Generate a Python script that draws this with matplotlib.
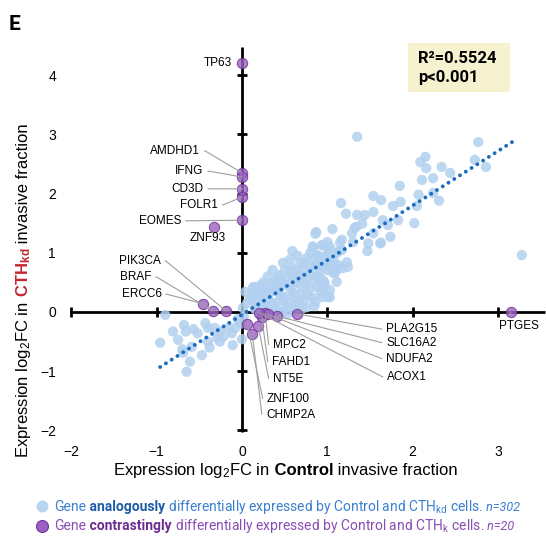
import matplotlib
matplotlib.use('Agg')
import matplotlib.pyplot as plt
from matplotlib.patches import Rectangle

plt.rcParams['font.family'] = ['Liberation Sans', 'DejaVu Sans']
plt.rcParams['mathtext.default'] = 'regular'

# genes differentially expressed the same way in both (light blue)
blue_x = [-0.90, -0.68, -0.81, -0.66, -0.57, -0.52, -0.43, -0.40, -0.32, -0.26,
          -0.16, -0.08, -0.12, -0.22, -0.29, -0.26, -0.96, -0.75, -0.70, -0.59,
          -0.40, -0.38, -0.11, 0.00, -0.47, -0.61, -0.65, -0.69, -0.05, -0.02,
          0.59, 0.83, 0.94, 1.03, 1.11, 0.88, 0.76, 0.97, 0.68, 0.86,
          1.03, 0.48, 0.36, 0.56, 0.72, 0.91, 1.07, 0.45, 0.62, 0.77,
          0.95, 1.11, 0.35, 0.53, 0.70, 0.88, 1.03, 0.15, 0.25, 0.41,
          0.60, 0.77, 0.94, 0.04, 0.12, 0.30, 0.48, 0.66, 0.86, 1.03,
          0.06, 0.21, 0.36, 0.54, 0.76, 0.01, 0.60,
          1.35, 2.77, 2.09, 2.15, 2.16, 2.34, 2.44, 2.11, 2.24, 1.85,
          2.73, 2.86, 2.07, 2.31, 2.05, 1.86, 1.77, 1.63, 1.54, 1.16,
          1.22, 1.35, 1.44, 1.54, 1.65, 1.71, 1.83, 2.02, 1.34, 1.41,
          1.29, 1.06, 0.87, 0.86, 1.30, 1.48, 1.62, 1.74, 1.47, 1.17,
          0.94, 1.01, 1.14, 0.83, 3.28, 1.23, 1.13, 1.24, 1.11, 0.95,
          1.01, 0.56, 0.80,
          1.32, 1.54, 1.63, 1.15, 1.17, 1.07, 1.00, 1.18, 1.09, 1.00,
          0.97, 0.12, 0.23, 0.31, 0.45, 0.65, 0.91, 0.21, 0.45, 0.53,
          0.36, 0.70, 0.85, 0.30, 0.15, 0.40, 0.50, 0.60, 0.70, 0.80,
          0.90, 0.65, 0.50, 0.40, 0.25, 0.30, 0.20, 0.13, 0.02, 2.24,
          0.18, 0.28, 0.38, 0.43, 0.52, 0.58, 0.63, 0.67, 0.73, 0.79,
          0.83, 0.85, 0.90, 0.92, 0.98, 1.00, 0.74, 0.80, 0.57, 0.62,
          0.45, 0.33, 0.27, 0.17, 0.09, 0.69, 0.82, 0.92, 0.50, 0.64,
          0.40, 0.55, 0.72, 0.95, 1.08, 0.47, 0.35, 0.22, 0.60, 0.88]
blue_y = [-0.05, -0.22, -0.33, -0.33, -0.29, -0.36, -0.19, -0.27, -0.27, -0.33,
          -0.27, -0.27, -0.36, -0.42, -0.44, -0.50, -0.52, -0.47, -0.63, -0.59,
          -0.50, -0.60, -0.56, -0.46, -0.73, -0.84, -1.01, -0.69, -0.12, -0.20,
          1.03, 1.11, 1.13, 1.10, 1.00, 0.96, 0.91, 0.91, 0.83, 0.79,
          0.83, 0.83, 0.71, 0.68, 0.71, 0.68, 0.66, 0.59, 0.57, 0.57,
          0.54, 0.51, 0.49, 0.46, 0.42, 0.42, 0.37, 0.42, 0.34, 0.34,
          0.32, 0.29, 0.25, 0.34, 0.25, 0.24, 0.20, 0.17, 0.17, 0.25,
          0.15, 0.12, 0.12, 0.08, 0.08, 0.07, 0.03,
          2.96, 2.87, 2.53, 2.62, 2.43, 2.45, 2.35, 2.23, 2.26, 2.13,
          2.57, 2.45, 1.98, 1.88, 1.79, 1.86, 1.79, 1.89, 1.96, 1.84,
          1.66, 1.64, 1.64, 1.69, 1.55, 1.47, 1.55, 1.50, 1.44, 1.49,
          1.33, 1.40, 1.35, 1.32, 1.18, 1.16, 1.16, 1.27, 1.03, 1.22,
          1.13, 1.06, 1.03, 1.08, 0.96, 0.84, 0.79, 0.76, 0.71, 0.49,
          0.25, 0.88, 1.00,
          1.42, 1.33, 1.17, 1.17, 1.05, 0.88, 1.18, 0.74, 0.66, 0.71,
          0.49, 0.29, 0.25, 0.32, 0.42, 0.49, 0.49, -0.03, -0.02, -0.04,
          0.00, 0.05, 0.10, 0.05, 0.05, 0.15, 0.25, 0.60, 0.55, 0.75,
          0.85, 0.95, 0.70, 0.55, 0.50, 0.60, 0.20, 0.42, -0.08, 2.01,
          0.30, 0.40, 0.45, 0.62, 0.55, 0.75, 0.70, 0.62, 0.83, 0.66,
          0.90, 0.55, 0.95, 0.78, 0.78, 0.96, 0.48, 0.40, 0.37, 0.25,
          0.28, 0.18, 0.10, 0.13, 0.22, 0.30, 0.24, 0.33, 0.05, 0.12,
          0.05, 0.15, 0.20, 0.40, 0.78, 0.50, 0.35, 0.45, 0.50, 0.60]

# genes with opposite behaviour (purple)
genes = ['TP63', 'AMDHD1', 'IFNG', 'CD3D', 'FOLR1', 'EOMES', 'ZNF93', 'PIK3CA',
         'BRAF', 'ERCC6', 'MPC2', 'FAHD1', 'NT5E', 'ZNF100', 'CHMP2A',
         'PLA2G15', 'SLC16A2', 'NDUFA2', 'ACOX1', 'PTGES']
purple_x = [0.00, 0.00, 0.00, 0.00, 0.00, 0.00, -0.33, -0.19, -0.34, -0.46,
            0.27, 0.23, 0.19, 0.06, 0.12, 0.64, 0.41, 0.30, 0.20, 3.15]
purple_y = [4.20, 2.35, 2.28, 2.08, 1.94, 1.55, 1.44, 0.02, 0.02, 0.14,
            -0.02, -0.08, -0.24, -0.20, -0.37, -0.03, -0.07, -0.04, -0.01, 0.00]

# regression line ends
trend_x = [-0.96, 3.22]
trend_y = [-0.93, 2.92]

xticks = [-2, -1, 0, 1, 2, 3]
yticks = [-2, -1, 0, 1, 2, 3, 4]

# where each gene label goes: x, y, alignment, leader side
label_layout = {
    'TP63': (-0.12, 4.20, 'right', None),
    'AMDHD1': (-0.49, 2.72, 'right', 'L'),
    'IFNG': (-0.45, 2.38, 'right', 'L'),
    'CD3D': (-0.45, 2.08, 'right', 'L'),
    'FOLR1': (-0.28, 1.81, 'right', 'L'),
    'EOMES': (-0.71, 1.54, 'right', 'L'),
    'ZNF93': (-0.40, 1.25, 'center', None),
    'PIK3CA': (-0.95, 0.86, 'right', 'L'),
    'BRAF': (-1.06, 0.59, 'right', 'L'),
    'ERCC6': (-0.94, 0.30, 'right', 'L'),
    'MPC2': (0.36, -0.56, 'left', 'R'),
    'FAHD1': (0.35, -0.85, 'left', 'R'),
    'NT5E': (0.36, -1.13, 'left', 'R'),
    'ZNF100': (0.29, -1.47, 'left', 'R'),
    'CHMP2A': (0.28, -1.74, 'left', 'R'),
    'PLA2G15': (1.69, -0.29, 'left', 'R'),
    'SLC16A2': (1.69, -0.52, 'left', 'R'),
    'NDUFA2': (1.69, -0.79, 'left', 'R'),
    'ACOX1': (1.70, -1.10, 'left', 'R'),
    'PTGES': (3.25, -0.24, 'center', 'T'),
}

fig = plt.figure(figsize=(5.46, 5.44), dpi=100)
ax = fig.add_axes([0.1152, 0.198, 0.8826, 0.7182])
ax.set_xlim(-2.1, 3.55)
ax.set_ylim(-2.1, 4.5)
for s in ax.spines.values():
    s.set_visible(False)
ax.set_xticks(xticks)
ax.set_yticks(yticks)
ax.tick_params(length=0, labelsize=10)
ax.tick_params(axis='y', pad=5)
ax.tick_params(axis='x', pad=6.5)

# axes crossing at the origin
ax.hlines(0, -2.02, 3.55, color='black', lw=2, zorder=1, clip_on=False)
ax.vlines(0, -2.03, 4.48, color='black', lw=2, zorder=1, clip_on=False)
xt = [t for t in xticks if t != 0]
yt = [t for t in yticks if t != 0]
ax.plot(xt, [0] * len(xt), ls='none', marker='|', ms=7, mew=2, color='black', zorder=1)
ax.plot([0] * len(yt), yt, ls='none', marker='_', ms=7, mew=2, color='black', zorder=1)

ax.scatter(blue_x, blue_y, s=55, color='#b2d0ef', alpha=0.85, edgecolors='none', zorder=2)
ax.plot(trend_x, trend_y, color='#1b6cc0', lw=2.8, ls=(0, (0.01, 1.75)),
        dash_capstyle='round', zorder=3)
ax.scatter(purple_x, purple_y, s=55, color='#9b62c4', alpha=0.8,
           edgecolors='#6e3494', linewidths=0.8, zorder=4)

for g, x, y in zip(genes, purple_x, purple_y):
    tx, ty, ha, side = label_layout[g]
    if side is None:
        ax.text(tx, ty, g, ha=ha, va='center', fontsize=8.5, zorder=5)
        continue
    if side == 'L':
        props = dict(relpos=(1, 0.5), connectionstyle='arc,angleA=0,armA=5,angleB=0,armB=0.01,rad=0')
    elif side == 'R':
        props = dict(relpos=(0, 0.5), connectionstyle='arc,angleA=180,armA=4,angleB=0,armB=0.01,rad=0')
    else:
        props = dict(relpos=(0.25, 1), connectionstyle='arc3')
    ax.annotate(g, xy=(x, y), xytext=(tx, ty), ha=ha, va='center', fontsize=8.5, zorder=5,
                arrowprops=dict(arrowstyle='-', color='#9e9e9e', lw=0.8,
                                shrinkA=1, shrinkB=0, **props))


def chain_text(pieces, x, y, rotation=0, **common):
    # draw pieces one after another, each starting where the previous ended
    prev = None
    for s, kw in pieces:
        opts = dict(common)
        opts.update(kw)
        if prev is None:
            prev = fig.text(x, y, s, rotation=rotation, rotation_mode='anchor',
                            ha='left', va='baseline', **opts)
        elif rotation == 0:
            prev = ax.annotate(s, xy=(1, y), xycoords=(prev, 'figure fraction'),
                               ha='left', va='baseline', annotation_clip=False, **opts)
        else:
            prev = ax.annotate(s, xy=(x, 1), xycoords=('figure fraction', prev),
                               rotation=rotation, rotation_mode='anchor',
                               ha='left', va='baseline', annotation_clip=False, **opts)
    return prev


chain_text([('Expression log$_2$FC in', {}),
            (' Control', {'weight': 'bold'}),
            (' invasive fraction', {})],
           0.207, 0.127, fontsize=12, color='black')

chain_text([('Expression log$_2$FC in', {}),
            (' CTH$_{kd}$', {'weight': 'bold', 'color': '#c4262e'}),
            (' invasive fraction', {})],
           0.0513, 0.158, rotation=90, fontsize=12, color='black')

# legend
ax.plot([0.0769], [0.0699], transform=fig.transFigure, clip_on=False, marker='o', ms=8.6,
        mfc='#b8d5f1', mec='none', ls='none')
ax.plot([0.0769], [0.0331], transform=fig.transFigure, clip_on=False, marker='o', ms=8.6,
        mfc='#9b5fc5', mec='#6e3494', mew=0.8, ls='none')

blue_txt = '#3a80d2'
purple_txt = '#8a4db3'
chain_text([('Gene', {}),
            (' analogously', {'weight': 'bold', 'color': '#1d5ca8'}),
            (' differentially expressed by Control and CTH$_{kd}$ cells.', {}),
            (' n=302', {'style': 'italic', 'fontsize': 9})],
           0.0989, 0.0607, fontsize=10, color=blue_txt, family=['Roboto', 'DejaVu Sans'])
chain_text([('Gene', {}),
            (' contrastingly', {'weight': 'bold', 'color': '#6b2d90'}),
            (' differentially expressed by Control and CTH$_k$ cells.', {}),
            (' n=20', {'style': 'italic', 'fontsize': 9})],
           0.0989, 0.0257, fontsize=10, color=purple_txt, family=['Roboto', 'DejaVu Sans'])

# R2 box
fig.add_artist(Rectangle((408 / 546, 1 - 92 / 544), 102 / 546, 49 / 544,
                         transform=fig.transFigure, fc='#f6f2d0', ec='none'))
fig.text(418 / 546, 1 - 63 / 544, 'R²=0.5524', fontsize=12, weight='bold',
         family=['Roboto', 'DejaVu Sans'], va='baseline')
fig.text(418 / 546, 1 - 82 / 544, 'p<0.001', fontsize=12, weight='bold',
         family=['Roboto', 'DejaVu Sans'], va='baseline')

fig.text(9 / 546, 1 - 30 / 544, 'E', fontsize=15, weight='bold',
         family=['Roboto', 'DejaVu Sans'], va='baseline')

fig.savefig('out.png', dpi=100)
